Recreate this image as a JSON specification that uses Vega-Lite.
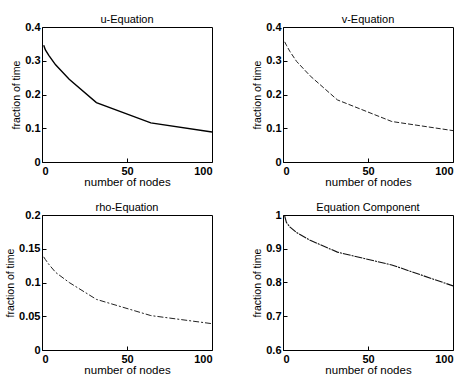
{
  "$schema": "https://vega.github.io/schema/vega-lite/v6.json",
  "background": "white",
  "padding": {"left": 5, "top": 13, "right": 5, "bottom": 2},
  "datasets": {
    "u": [{"n":1,"f":0.346},{"n":2,"f":0.332},{"n":4,"f":0.316},{"n":8,"f":0.288},{"n":16,"f":0.245},{"n":32,"f":0.176},{"n":64,"f":0.116},{"n":100,"f":0.089}],
    "v": [{"n":1,"f":0.356},{"n":2,"f":0.346},{"n":4,"f":0.328},{"n":8,"f":0.298},{"n":16,"f":0.255},{"n":32,"f":0.184},{"n":64,"f":0.12},{"n":100,"f":0.093}],
    "rho": [{"n":1,"f":0.138},{"n":2,"f":0.134},{"n":4,"f":0.127},{"n":8,"f":0.115},{"n":16,"f":0.1},{"n":32,"f":0.075},{"n":64,"f":0.051},{"n":100,"f":0.039}],
    "eq": [{"n":1,"f":0.997},{"n":2,"f":0.978},{"n":4,"f":0.965},{"n":8,"f":0.948},{"n":16,"f":0.925},{"n":32,"f":0.89},{"n":64,"f":0.852},{"n":100,"f":0.79}]
  },
  "columns": 2,
  "bounds": "flush",
  "spacing": {"row": 53, "column": 71},
  "concat": [
    {
      "title": "u-Equation",
      "width": 170, "height": 135,
      "data": {"name": "u"},
      "mark": {"type": "line", "color": "black", "strokeWidth": 1.4},
      "encoding": {
        "x": {"field": "n", "type": "quantitative", "title": "number of nodes", "scale": {"domain": [0, 100]}, "axis": {"values": [0, 50, 100]}},
        "y": {"field": "f", "type": "quantitative", "title": "fraction of time", "scale": {"domain": [0, 0.4]}, "axis": {"values": [0, 0.1, 0.2, 0.3, 0.4], "format": "~g"}}
      }
    },
    {
      "title": "v-Equation",
      "width": 170, "height": 135,
      "data": {"name": "v"},
      "mark": {"type": "line", "color": "#222", "strokeWidth": 1, "strokeDash": [5, 2]},
      "encoding": {
        "x": {"field": "n", "type": "quantitative", "title": "number of nodes", "scale": {"domain": [0, 100]}, "axis": {"values": [0, 50, 100]}},
        "y": {"field": "f", "type": "quantitative", "title": "fraction of time", "scale": {"domain": [0, 0.4]}, "axis": {"values": [0, 0.1, 0.2, 0.3, 0.4], "format": "~g"}}
      }
    },
    {
      "title": "rho-Equation",
      "width": 170, "height": 135,
      "data": {"name": "rho"},
      "mark": {"type": "line", "color": "#222", "strokeWidth": 1, "strokeDash": [6, 2, 2, 2]},
      "encoding": {
        "x": {"field": "n", "type": "quantitative", "title": "number of nodes", "scale": {"domain": [0, 100]}, "axis": {"values": [0, 50, 100]}},
        "y": {"field": "f", "type": "quantitative", "title": "fraction of time", "scale": {"domain": [0, 0.2]}, "axis": {"values": [0, 0.05, 0.1, 0.15, 0.2], "format": "~g"}}
      }
    },
    {
      "title": "Equation Component",
      "width": 170, "height": 135,
      "data": {"name": "eq"},
      "mark": {"type": "line", "color": "#111", "strokeWidth": 1.1, "strokeDash": [8, 1, 2, 1]},
      "encoding": {
        "x": {"field": "n", "type": "quantitative", "title": "number of nodes", "scale": {"domain": [0, 100]}, "axis": {"values": [0, 50, 100]}},
        "y": {"field": "f", "type": "quantitative", "title": "fraction of time", "scale": {"domain": [0.6, 1]}, "axis": {"values": [0.6, 0.7, 0.8, 0.9, 1], "format": "~g"}}
      }
    }
  ],
  "config": {
    "font": "Liberation Sans",
    "view": {"stroke": "black", "strokeWidth": 1},
    "title": {"fontSize": 11, "fontWeight": "normal", "font": "Liberation Sans", "offset": -3.5, "color": "black"},
    "axis": {
      "grid": false,
      "domain": false,
      "tickSize": -4,
      "tickColor": "black",
      "labelFont": "Liberation Sans",
      "labelFontSize": 11,
      "labelFontWeight": "bold",
      "labelColor": "black",
      "titleFont": "Liberation Sans",
      "titleFontWeight": "normal",
      "titleColor": "black"
    },
    "axisX": {"labelPadding": 7, "titlePadding": 0, "titleFontSize": 11.5},
    "axisY": {"labelPadding": 6, "titlePadding": 3, "titleFontSize": 10.5}
  }
}
